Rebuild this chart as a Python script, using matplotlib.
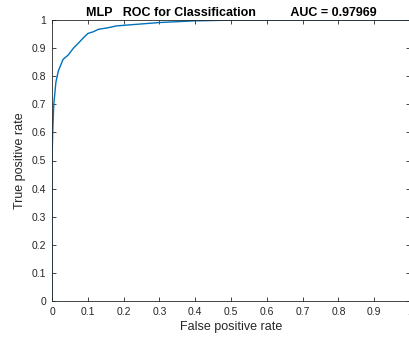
import matplotlib
matplotlib.use("Agg")
import matplotlib.pyplot as plt

# ROC points
fpr = [0.0, 0.0, 0.002, 0.005, 0.011, 0.018, 0.031, 0.045, 0.06, 0.074,
       0.088, 0.10, 0.115, 0.13, 0.155, 0.18, 0.21, 0.25, 0.30, 0.35,
       0.40, 0.48, 0.55, 1.0]
tpr = [0.0, 0.5, 0.6, 0.70, 0.78, 0.82, 0.86, 0.875, 0.90, 0.918,
       0.937, 0.952, 0.958, 0.967, 0.972, 0.979, 0.982, 0.986, 0.991, 0.994,
       0.997, 0.999, 1.0, 1.0]
ticks = [0, 0.1, 0.2, 0.3, 0.4, 0.5, 0.6, 0.7, 0.8, 0.9, 1]
tick_labels = ['0', '0.1', '0.2', '0.3', '0.4', '0.5', '0.6', '0.7', '0.8', '0.9', '1']
auc = 0.97969

plt.rcParams['font.family'] = ['Liberation Sans', 'DejaVu Sans']

W, H = 409, 339
fig = plt.figure(figsize=(W / 100, H / 100), dpi=100)
ax = fig.add_axes([52 / W, 1 - 301 / H, (410 - 52) / W, (301 - 20) / H])

ax.plot(fpr, tpr, color='#0072BD', lw=1.0)
ax.set_xlim(0, 1)
ax.set_ylim(0, 1)
ax.set_xticks(ticks)
ax.set_xticklabels(tick_labels)
ax.set_yticks(ticks)
ax.set_yticklabels(tick_labels)

grey = '#262626'
for s in ax.spines.values():
    s.set_color(grey)
    s.set_linewidth(0.6)
ax.tick_params(direction='in', length=3, width=0.6, colors=grey, labelsize=7.5,
               top=True, right=True, pad=4)

ax.set_xlabel('False positive rate', fontsize=9, color=grey, labelpad=3)
ax.set_ylabel('True positive rate', fontsize=9, color=grey, labelpad=4)
ax.set_title('MLP   ROC for Classification          AUC = %.5f' % auc,
             fontsize=9, fontweight='bold', pad=3)

fig.savefig('out.png', dpi=100)
